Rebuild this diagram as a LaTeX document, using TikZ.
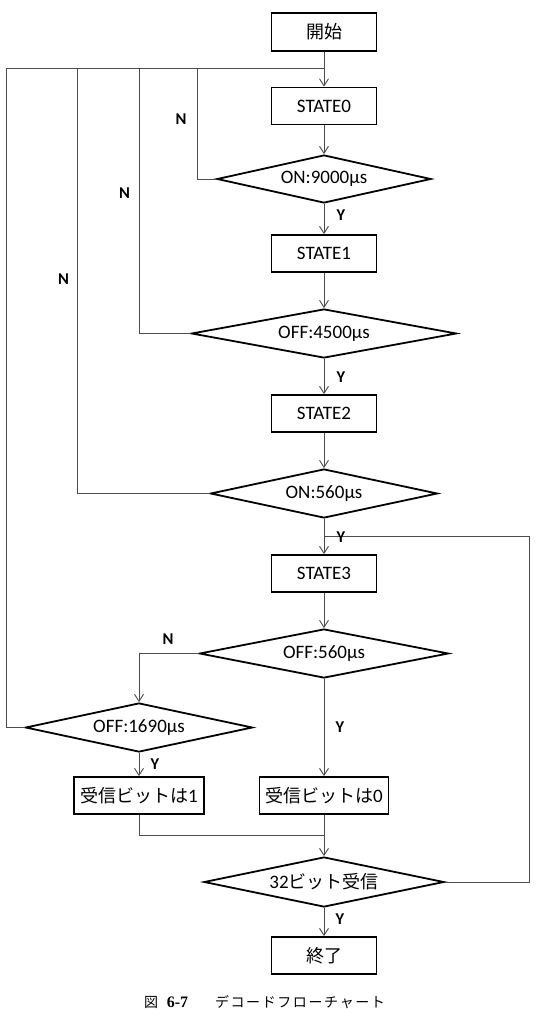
\documentclass[tikz,border=0pt]{standalone}
\usepackage{fontspec}
\setmainfont{Carlito}
\newfontfamily\cjk{Noto Sans CJK JP}
\newfontfamily\capserif{Liberation Serif}
\usetikzlibrary{shapes.geometric,arrows.meta}
\newcommand{\jp}{\cjk\fontsize{18}{20}\selectfont}
\begin{document}
\begin{tikzpicture}[x=1pt,y=-1pt,
  procbox/.style={draw=black,line width=1.8pt,minimum width=105pt,minimum height=37pt,inner sep=0pt,font=\fontsize{19}{21}\selectfont},
  decis/.style={draw=black,line width=1.8pt,diamond,shape aspect=5,inner sep=1pt,font=\fontsize{19}{21}\selectfont},
  conn/.style={draw=black!70,line width=0.9pt},
  arr/.style={conn,-{Straight Barb[length=7pt,width=9pt,line width=0.9pt]}},
  yn/.style={font=\bfseries\fontsize{16.5}{18}\selectfont,inner sep=0pt}]
\useasboundingbox (0,0) rectangle (545,1016);
\fill[white] (0,0) rectangle (545,1016);

% nodes
\node[procbox,minimum height=38pt] (start) at (324,32) {{\jp 開始}};
\node[procbox] (s0) at (324,106) {STATE0};
\node[decis,minimum width=214pt,minimum height=48pt] (d0) at (324,179) {ON:9000µs};
\node[procbox] (s1) at (324,253.5) {STATE1};
\node[decis,minimum width=265pt,minimum height=49pt] (d1) at (324,333.5) {OFF:4500µs};
\node[procbox] (s2) at (324,413.5) {STATE2};
\node[decis,minimum width=227pt,minimum height=49pt] (d2) at (324,493.5) {ON:560µs};
\node[procbox] (s3) at (324,573.5) {STATE3};
\node[decis,minimum width=249pt,minimum height=49pt] (d3) at (324,653.5) {OFF:560µs};
\node[decis,minimum width=227pt,minimum height=49pt] (d4) at (139,727.5) {OFF:1690µs};
\node[procbox,minimum width=130pt] (b1) at (139,795.5) {{\jp 受信ビットは}1};
\node[procbox,minimum width=129pt] (b0) at (324,795.5) {{\jp 受信ビットは}0};
\node[decis,minimum width=240pt,minimum height=50pt] (d5) at (324,882) {32{\jp ビット受信}};
\node[procbox] (end) at (324,955.5) {{\jp 終了}};

% helper coordinates
\coordinate (jn) at (324,68);
\coordinate (c0) at (197,68);
\coordinate (c1) at (139,68);
\coordinate (c2) at (77,68);
\coordinate (c4) at (6,68);
\coordinate (loopR) at (529,536);
\coordinate (loopT) at (324,536);
\coordinate (merge) at (324,835);

% main flow
\draw[arr] (start) -- (s0);
\draw[arr] (s0) -- (d0);
\draw[arr] (d0) -- (s1);
\draw[arr] (s1) -- (d1);
\draw[arr] (d1) -- (s2);
\draw[arr] (s2) -- (d2);
\draw[arr] (d2) -- (s3);
\draw[arr] (s3) -- (d3);
\draw[arr] (d3) -- (b0);
\draw[arr] (d3.west) -| (d4.north);
\draw[arr] (d4) -- (b1);
\draw[arr] (b0) -- (d5);
\draw[conn] (b1.south) |- (merge);
\draw[arr] (d5) -- (end);

% N returns
\draw[conn] (d0.west) -| (c0) -- (jn);
\draw[conn] (d1.west) -| (c1) -- (jn);
\draw[conn] (d2.west) -| (c2) -- (jn);
\draw[conn] (d4.west) -| (c4) -- (jn);

% loop back
\draw[conn] (d5.east) -| (loopR) -- (loopT);

% labels
\node[yn] (n0) at (181,119) {N};
\node[yn] (n1) at (124.5,193) {N};
\node[yn] (n2) at (63.5,279) {N};
\node[yn] (n3) at (168,639) {N};
\node[yn] (y0) at (341,215) {Y};
\node[yn] (y1) at (341,377) {Y};
\node[yn] (y2) at (341,537) {Y};
\node[yn] (y3) at (340,727) {Y};
\node[yn] (y4) at (155,764) {Y};
\node[yn] (y5) at (340,919) {Y};

% caption
\node[inner sep=0pt,font=\cjk\fontsize{14}{16}\selectfont] (capa) at (151,1002) {図};
\node[inner sep=0pt,font=\capserif\bfseries\fontsize{16}{18}\selectfont] (capb) at (177.5,1002) {6-7};
\node[inner sep=0pt,font=\cjk\fontsize{14}{16}\selectfont,text width=170pt,align=center] (capc) at (300,1002) {デ\hfill コ\hfill ー\hfill ド\hfill フ\hfill ロ\hfill ー\hfill チ\hfill ャ\hfill ー\hfill ト};
\end{tikzpicture}
\end{document}
